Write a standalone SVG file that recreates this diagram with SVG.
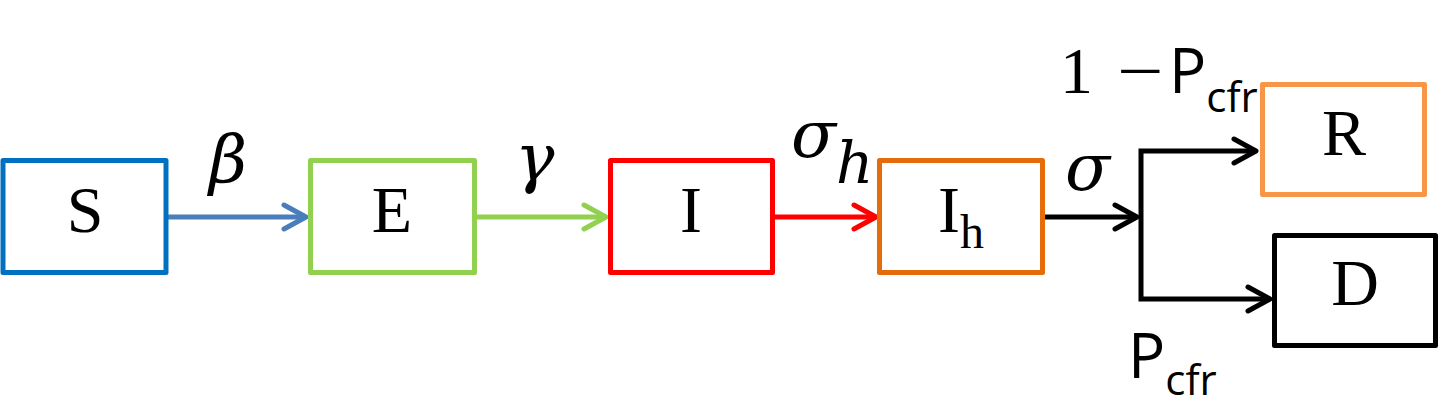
<svg xmlns="http://www.w3.org/2000/svg" width="1440" height="407" viewBox="0 0 1440 407">
<style>
.box{fill:#fff;stroke-width:5;stroke-linejoin:round}
.lbl{font-family:"Liberation Serif",serif;font-size:66px;fill:#000;text-anchor:middle}
.greek{font-family:"DejaVu Serif",serif;font-style:italic;font-size:66px;fill:#000}
.sans{font-family:"Open Sans","Noto Sans",sans-serif;fill:#000}
.conn{fill:none;stroke-width:5}
</style>
<defs>
<marker id="ab" viewBox="-26 -15 30 30" refX="0" refY="0" markerWidth="30" markerHeight="30" markerUnits="userSpaceOnUse" orient="auto"><path d="M-22,-12 L0,0 L-22,12" fill="none" stroke="#4a7ebb" stroke-width="5" stroke-linecap="round" stroke-linejoin="round"/></marker>
<marker id="ag" viewBox="-26 -15 30 30" refX="0" refY="0" markerWidth="30" markerHeight="30" markerUnits="userSpaceOnUse" orient="auto"><path d="M-22,-12 L0,0 L-22,12" fill="none" stroke="#92d050" stroke-width="5" stroke-linecap="round" stroke-linejoin="round"/></marker>
<marker id="ar" viewBox="-26 -15 30 30" refX="0" refY="0" markerWidth="30" markerHeight="30" markerUnits="userSpaceOnUse" orient="auto"><path d="M-22,-12 L0,0 L-22,12" fill="none" stroke="#ff0000" stroke-width="5" stroke-linecap="round" stroke-linejoin="round"/></marker>
<marker id="ak" viewBox="-26 -15 30 30" refX="0" refY="0" markerWidth="30" markerHeight="30" markerUnits="userSpaceOnUse" orient="auto"><path d="M-22,-12 L0,0 L-22,12" fill="none" stroke="#000" stroke-width="5" stroke-linecap="round" stroke-linejoin="round"/></marker>
</defs>
<rect width="1440" height="407" fill="#fff"/>
<g id="connectors">
<line class="conn" x1="166" y1="217" x2="306" y2="217" stroke="#4a7ebb" marker-end="url(#ab)"/>
<line class="conn" x1="474" y1="217" x2="606" y2="217" stroke="#92d050" marker-end="url(#ag)"/>
<line class="conn" x1="772" y1="217" x2="876" y2="217" stroke="#ff0000" marker-end="url(#ar)"/>
<line class="conn" x1="1042" y1="217" x2="1137" y2="217" stroke="#000" marker-end="url(#ak)"/>
<path class="conn" d="M1141,220 V151 H1256" stroke="#000" marker-end="url(#ak)"/>
<path class="conn" d="M1141,220 V299 H1270" stroke="#000" marker-end="url(#ak)"/>
</g>
<g id="labels">
<text class="greek" x="209" y="182" font-size="72">β</text>
<text class="greek" x="515" y="180" font-size="68">γ</text>
<text class="greek" x="791" y="157">σ<tspan font-size="58" dy="26">h</tspan></text>
<text class="greek" x="1065" y="190">σ</text>
<text x="1060" y="93" font-family="'Liberation Serif',serif" font-size="66">1</text>
<text x="0" y="0" font-family="'Liberation Serif',serif" font-size="66" transform="translate(1117,93) scale(1.25,1)">−</text>
<text class="sans" x="1169" y="93" font-size="62">P<tspan font-size="42" dy="19">cfr</tspan></text>
<text class="sans" x="1128" y="378" font-size="62">P<tspan font-size="42" dy="17">cfr</tspan></text>
</g>
<g id="S"><rect class="box" x="3" y="160.5" width="163" height="112" stroke="#0070c0"/><text class="lbl" x="85" y="232">S</text></g>
<g id="E"><rect class="box" x="310.5" y="160.5" width="164" height="112" stroke="#92d050"/><text class="lbl" x="392" y="232">E</text></g>
<g id="I"><rect class="box" x="610.5" y="160.5" width="162" height="112" stroke="#ff0000"/><text class="lbl" x="691" y="232">I</text></g>
<g id="Ih"><rect class="box" x="879.5" y="160.5" width="163" height="112" stroke="#e46c0a"/><text class="lbl" x="961" y="232">I<tspan font-size="48" dy="16">h</tspan></text></g>
<g id="R"><rect class="box" x="1262.5" y="84.5" width="162" height="110" stroke="#f79646"/><text class="lbl" x="1344" y="155">R</text></g>
<g id="D"><rect class="box" x="1274.5" y="235.5" width="161" height="110" stroke="#000"/><text class="lbl" x="1355" y="305">D</text></g>
</svg>
